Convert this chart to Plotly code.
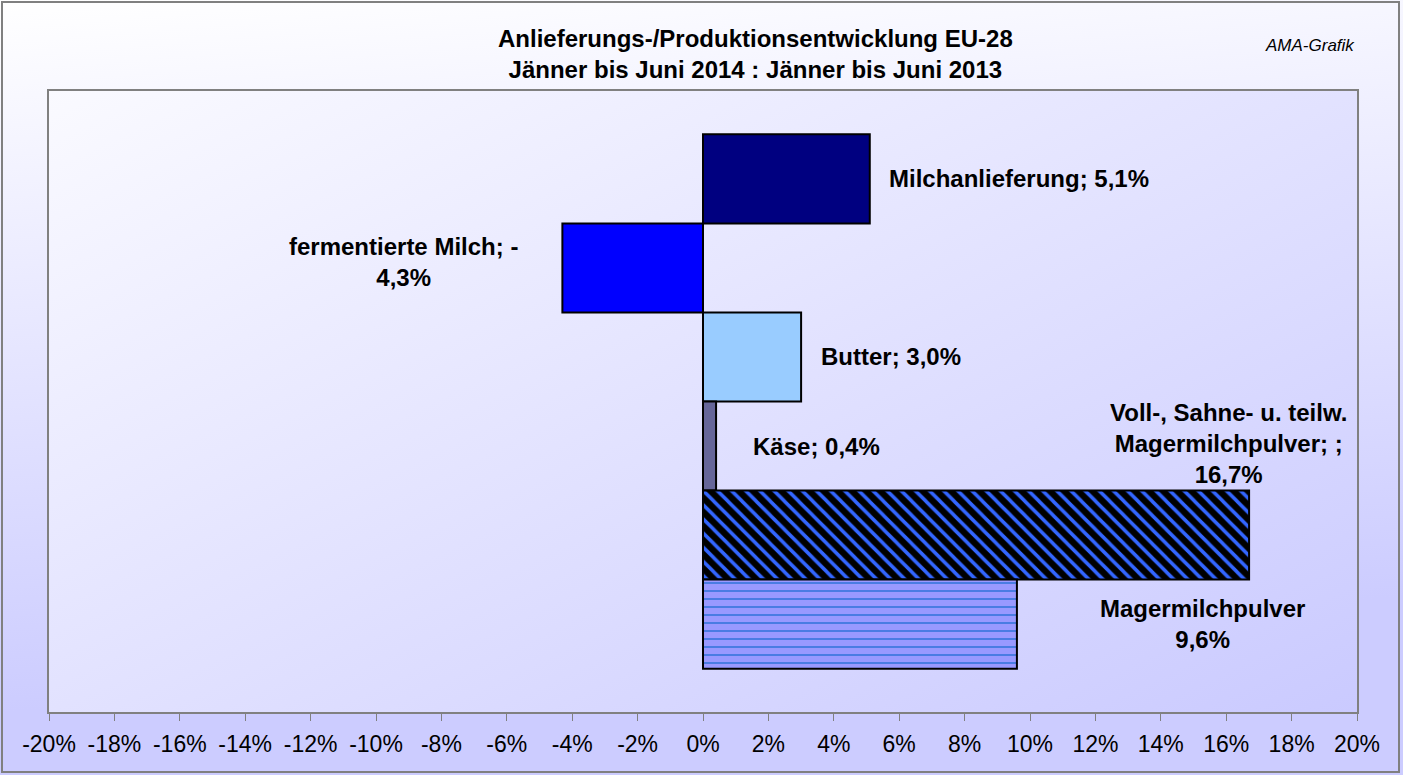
import base64
import plotly.graph_objects as go

# ---------------- data ----------------
categories = ["Milchanlieferung", "fermentierte Milch", "Butter", "Käse",
              "Voll-, Sahne- u. teilw. Magermilchpulver", "Magermilchpulver"]
values = [5.1, -4.3, 3.0, 0.4, 16.7, 9.6]
labels = ["Milchanlieferung; 5,1%",
          "fermentierte Milch; -<br>4,3%",
          "Butter; 3,0%",
          "Käse; 0,4%",
          "Voll-, Sahne- u. teilw.<br>Magermilchpulver; ;<br>16,7%",
          "Magermilchpulver<br>9,6%"]
tick_values = list(range(-20, 21, 2))
tick_labels = [f"{v}%" for v in tick_values]
title_text = "Anlieferungs-/Produktionsentwicklung EU-28<br>Jänner bis Juni 2014 : Jänner bis Juni 2013"
source_text = "AMA-Grafik"

# ---------------- styles ----------------
W, H = 1403, 775
ML, MR, MT, MB = 49, 46, 91, 63
PW, PH = W - ML - MR, H - MT - MB
FONT = "Arial, 'Liberation Sans', sans-serif"

bar_colors = ["#000080", "#0000FF", "#99CCFF", "#666699", "#3366FF", "#3F78E0"]
pattern_shapes = ["", "", "", "", "\\", "-"]
pattern_bg = [None, None, None, None, "#000000", "#9999FF"]
pattern_size = [None, None, None, None, 10, 8]
pattern_solidity = [None, None, None, None, 0.35, 0.22]
label_x = [5.62, -9.15, 3.54, 1.46, 16.08, 15.28]
label_anchor = ["left", "center", "left", "left", "center", "center"]
label_yshift = [0, 6, 0, 0, 92, 0]


def px_x(p):
    return (p - ML) / PW


def px_y(p):
    return (H - MB - p) / PH


def svg_uri(svg):
    return "data:image/svg+xml;base64," + base64.b64encode(svg.encode()).decode()


outer_svg = ('<svg xmlns="http://www.w3.org/2000/svg" width="100" height="100" '
             'viewBox="0 0 100 100" preserveAspectRatio="none"><defs>'
             '<linearGradient id="g" x1="0" y1="0" x2="0.15" y2="1">'
             '<stop offset="0" stop-color="#FFFFFF"/><stop offset="0.9" stop-color="#CCCCFF"/>'
             '</linearGradient></defs><rect width="100" height="100" fill="url(#g)"/></svg>')
plot_svg = ('<svg xmlns="http://www.w3.org/2000/svg" width="100" height="100" '
            'viewBox="0 0 100 100" preserveAspectRatio="none"><defs>'
            '<linearGradient id="g" x1="0" y1="0" x2="1" y2="1">'
            '<stop offset="0" stop-color="#FAFAFF"/><stop offset="1" stop-color="#CACAFF"/>'
            '</linearGradient></defs><rect width="100" height="100" fill="url(#g)"/></svg>')

fig = go.Figure()
for i, cat in enumerate(categories):
    marker = dict(color=bar_colors[i], line=dict(color="#000000", width=2))
    if pattern_shapes[i]:
        marker["pattern"] = dict(shape=pattern_shapes[i], fgcolor=bar_colors[i],
                                 bgcolor=pattern_bg[i], size=pattern_size[i],
                                 solidity=pattern_solidity[i], fillmode="replace")
    fig.add_trace(go.Bar(x=[values[i]], y=[cat], orientation="h", width=1,
                         marker=marker, showlegend=False, hoverinfo="x+y"))

annotations = []
for i, cat in enumerate(categories):
    annotations.append(dict(x=label_x[i], y=cat, xref="x", yref="y", text=labels[i],
                            showarrow=False, xanchor=label_anchor[i], yanchor="middle",
                            align="center", yshift=label_yshift[i],
                            font=dict(family=FONT, size=24, color="#000000", weight="bold")))
annotations.append(dict(x=px_x(755), y=px_y(54), xref="paper", yref="paper", text=title_text,
                        showarrow=False, xanchor="center", yanchor="middle", align="center",
                        font=dict(family=FONT, size=24, color="#000000", weight="bold")))
annotations.append(dict(x=px_x(1357), y=px_y(46), xref="paper", yref="paper", text=source_text,
                        showarrow=False, xanchor="right", yanchor="middle",
                        font=dict(family=FONT, size=17, color="#000000", style="italic")))

fig.update_layout(
    width=W, height=H,
    margin=dict(l=ML, r=MR, t=MT, b=MB, pad=0),
    barmode="overlay",
    paper_bgcolor="#E8E8FF",
    plot_bgcolor="rgba(0,0,0,0)",
    showlegend=False,
    annotations=annotations,
    images=[
        dict(source=svg_uri(outer_svg), xref="paper", yref="paper",
             x=px_x(0), y=px_y(0), sizex=W / PW, sizey=H / PH,
             xanchor="left", yanchor="top", sizing="stretch", layer="below"),
        dict(source=svg_uri(plot_svg), xref="paper", yref="paper",
             x=0, y=1, sizex=1, sizey=1,
             xanchor="left", yanchor="top", sizing="stretch", layer="below"),
    ],
    shapes=[dict(type="rect", xref="paper", yref="paper",
                 x0=px_x(2), x1=px_x(1399), y0=px_y(772), y1=px_y(2),
                 line=dict(color="#808080", width=2), fillcolor="rgba(0,0,0,0)")],
    xaxis=dict(range=[-20, 20], tickvals=tick_values, ticktext=tick_labels,
               ticks="outside", ticklen=7, tickwidth=1, tickcolor="#808080",
               ticklabelstandoff=3,
               tickfont=dict(family=FONT, size=23, color="#000000"),
               showgrid=False, zeroline=False, showline=True, mirror=True,
               linecolor="#808080", linewidth=2),
    yaxis=dict(categoryorder="array", categoryarray=categories,
               range=[5.987, -0.987], showticklabels=False, ticks="",
               showgrid=False, zeroline=False, showline=True, mirror=True,
               linecolor="#808080", linewidth=2),
)

fig.write_html("out.html", config={"displayModeBar": False},
               post_script="document.body.style.margin='0';document.body.style.padding='0';"
                           "document.body.style.overflow='hidden';")
